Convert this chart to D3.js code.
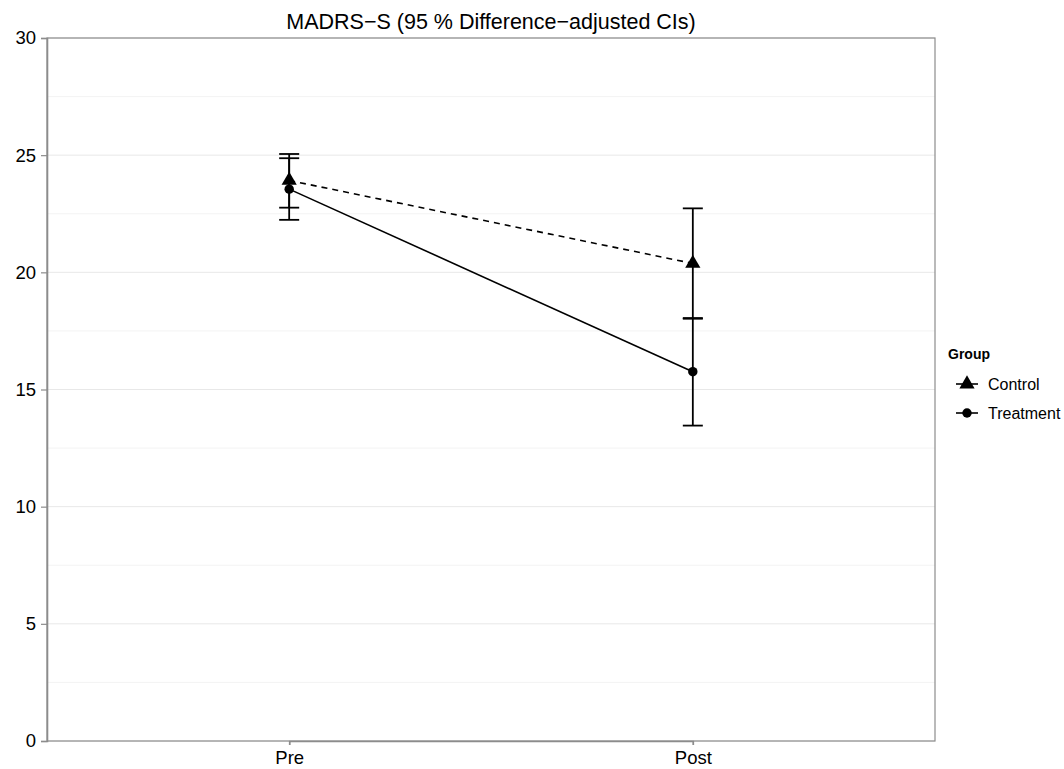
<!DOCTYPE html>
<html>
<head>
<meta charset="utf-8">
<script src="https://cdn.jsdelivr.net/npm/d3@7"></script>
<style>
  body { margin: 0; background: #fff; }
  text { font-family: "Liberation Sans", Arial, Helvetica, sans-serif; }
</style>
</head>
<body>
<div id="chart"></div>
<script>
// data
var times = ["Pre", "Post"];
var groups = ["Control", "Treatment"];
var controlMean = [23.92, 20.38];
var controlLow = [22.76, 18.02];
var controlHigh = [25.05, 22.73];
var treatMean = [23.55, 15.76];
var treatLow = [22.24, 13.46];
var treatHigh = [24.87, 18.05];
var yTicks = [0, 5, 10, 15, 20, 25, 30];
var yMinor = [2.5, 7.5, 12.5, 17.5, 22.5, 27.5];

var svgWidth = 1064;
var svgHeight = 769;
var margin = {top: 38, right: 129, bottom: 28, left: 47};
var w = svgWidth - margin.left - margin.right;
var h = svgHeight - margin.top - margin.bottom;

var svg = d3.select("#chart").append("svg")
  .attr("width", svgWidth)
  .attr("height", svgHeight);

var g = svg.append("g")
  .attr("transform", `translate(${margin.left}, ${margin.top})`);

// discrete x with ggplot-like expansion
var x = d3.scalePoint().domain(times).range([w * 0.6 / 2.2, w * 1.6 / 2.2]);
var y = d3.scaleLinear().domain([0, 30]).range([h, 0]);

// grid
g.selectAll(".minor").data(yMinor).enter().append("line")
  .attr("x1", 0).attr("x2", w)
  .attr("y1", d => y(d)).attr("y2", d => y(d))
  .attr("stroke", "#f3f3f3").attr("stroke-width", 1);
g.selectAll(".major").data(yTicks).enter().append("line")
  .attr("x1", 0).attr("x2", w)
  .attr("y1", d => y(d)).attr("y2", d => y(d))
  .attr("stroke", "#e8e8e8").attr("stroke-width", 1);

// panel border
g.append("rect").attr("x", 0).attr("y", 0).attr("width", w).attr("height", h)
  .attr("fill", "none").attr("stroke", "#8c8c8c").attr("stroke-width", 1.2);

// axes
var yAxis = g.append("g").call(d3.axisLeft(y).tickValues(yTicks).tickSize(6).tickPadding(5));
var xAxis = g.append("g").attr("transform", `translate(0, ${h})`)
  .call(d3.axisBottom(x).tickSize(4).tickPadding(6));
[xAxis, yAxis].forEach(function(a) {
  a.select(".domain").attr("stroke", "#8c8c8c").attr("stroke-width", 1.6);
  a.selectAll(".tick line").attr("stroke", "#8c8c8c").attr("stroke-width", 1.2);
  a.selectAll("text").attr("font-size", "18.5px").attr("fill", "#000")
    .style("font-family", "'Liberation Sans', Arial, sans-serif");
});

var series = [
  {name: "Control", mean: controlMean, lo: controlLow, hi: controlHigh, dash: "6,5", shape: d3.symbolTriangle, size: 100},
  {name: "Treatment", mean: treatMean, lo: treatLow, hi: treatHigh, dash: null, shape: d3.symbolCircle, size: 70}
];

series.forEach(function(s) {
  var pts = times.map((t, i) => ({t: t, m: s.mean[i], lo: s.lo[i], hi: s.hi[i]}));
  // error bars
  pts.forEach(function(p) {
    var cx = x(p.t);
    g.append("line").attr("x1", cx).attr("x2", cx)
      .attr("y1", y(p.lo)).attr("y2", y(p.hi))
      .attr("stroke", "#000").attr("stroke-width", 1.8);
    [p.lo, p.hi].forEach(function(v) {
      g.append("line").attr("x1", cx - 10).attr("x2", cx + 10)
        .attr("y1", y(v)).attr("y2", y(v))
        .attr("stroke", "#000").attr("stroke-width", 1.8);
    });
  });
  // line
  g.append("path").datum(pts)
    .attr("d", d3.line().x(d => x(d.t)).y(d => y(d.m)))
    .attr("fill", "none").attr("stroke", "#000").attr("stroke-width", 1.6)
    .attr("stroke-dasharray", s.dash);
  // points
  g.selectAll(null).data(pts).enter().append("path")
    .attr("d", d3.symbol().type(s.shape).size(s.size))
    .attr("transform", d => `translate(${x(d.t)}, ${y(d.m)})`)
    .attr("fill", "#000");
});

// title
svg.append("text")
  .attr("x", margin.left + w / 2).attr("y", 29)
  .attr("text-anchor", "middle").attr("font-size", "21.5px")
  .text("MADRS\u2212S (95 % Difference\u2212adjusted CIs)");

// legend
var leg = svg.append("g").attr("transform", "translate(948, 0)");
leg.append("text").attr("x", 0).attr("y", 359)
  .attr("font-size", "14px").attr("font-weight", "bold").text("Group");
series.forEach(function(s, i) {
  var ly = 384 + i * 29;
  leg.append("line").attr("x1", 8).attr("x2", 30).attr("y1", ly).attr("y2", ly)
    .attr("stroke", "#000").attr("stroke-width", 1.6);
  leg.append("path").attr("d", d3.symbol().type(s.shape).size(s.size))
    .attr("transform", `translate(19, ${ly})`).attr("fill", "#000");
  leg.append("text").attr("x", 40).attr("y", ly + 5.5)
    .attr("font-size", "16px").text(s.name);
});
</script>
</body>
</html>
